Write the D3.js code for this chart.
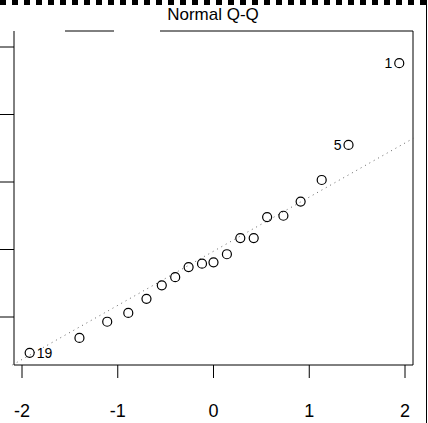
<!DOCTYPE html><html><head><meta charset="utf-8"><script src="https://cdn.jsdelivr.net/npm/d3@7"></script>
<style>body{margin:0;background:#fff}svg{font-family:"Liberation Sans",Arial,sans-serif}</style></head><body><svg id="c" width="428" height="423"></svg><script>
const theoretical=[-1.92,-1.40,-1.11,-0.89,-0.70,-0.54,-0.40,-0.26,-0.12,0,0.14,0.28,0.42,0.56,0.73,0.91,1.13,1.41,1.94];
const sample=[-0.53,-0.31,-0.07,0.06,0.27,0.47,0.59,0.74,0.79,0.81,0.93,1.17,1.17,1.48,1.50,1.71,2.03,2.55,3.76];
const labels={0:"19",17:"5",18:"1"};
const xTicks=[-2,-1,0,1,2];
const yTicks=[0,1,2,3,4];
const refLine=[[-2.1,-0.71],[2.09,2.65]];
const svg=d3.select("#c");
const x=d3.scaleLinear().domain([-2,2]).range([22,405]);
const y=d3.scaleLinear().domain([0,1]).range([317,249.5]);
const L=14,R=413,T=31,B=365;
// dashed top
svg.append("line").attr("x1",0).attr("x2",428).attr("y1",2.5).attr("y2",2.5).attr("stroke","#000").attr("stroke-width",5).attr("stroke-dasharray","6,6");
svg.append("line").attr("x1",426.5).attr("x2",426.5).attr("y1",0).attr("y2",423).attr("stroke","#000").attr("stroke-width",1);
svg.append("text").attr("x",213).attr("y",20).attr("text-anchor","middle").attr("font-size",17).text("Normal Q-Q");
const g=svg.append("g").attr("stroke","#000").attr("fill","none");
g.append("path").attr("d",`M${L},${T}V${B}H${R}V${T}H160M114,${T}H65`);
g.selectAll(".yt").data(yTicks).join("line").attr("x1",0).attr("x2",L).attr("y1",d=>y(d)).attr("y2",d=>y(d));
g.selectAll(".xt").data(xTicks).join("line").attr("x1",d=>x(d)).attr("x2",d=>x(d)).attr("y1",B).attr("y2",B+13);
svg.selectAll(".xl").data(xTicks).join("text").attr("x",d=>x(d)).attr("y",417).attr("text-anchor","middle").attr("font-size",18).text(d=>d);
svg.append("line").attr("x1",x(refLine[0][0])).attr("y1",y(refLine[0][1])).attr("x2",x(refLine[1][0])).attr("y2",y(refLine[1][1])).attr("stroke","#666").attr("stroke-dasharray","1,4");
svg.selectAll("circle").data(theoretical).join("circle").attr("cx",d=>x(d)).attr("cy",(d,i)=>y(sample[i])).attr("r",4.5).attr("fill","none").attr("stroke","#000").attr("stroke-width",1.2);
Object.entries(labels).forEach(([i,t])=>{i=+i;const right=i===0;
svg.append("text").attr("x",x(theoretical[i])+(right?7:-7)).attr("y",y(sample[i])+5).attr("text-anchor",right?"start":"end").attr("font-size",14).text(t);});
</script></body></html>
